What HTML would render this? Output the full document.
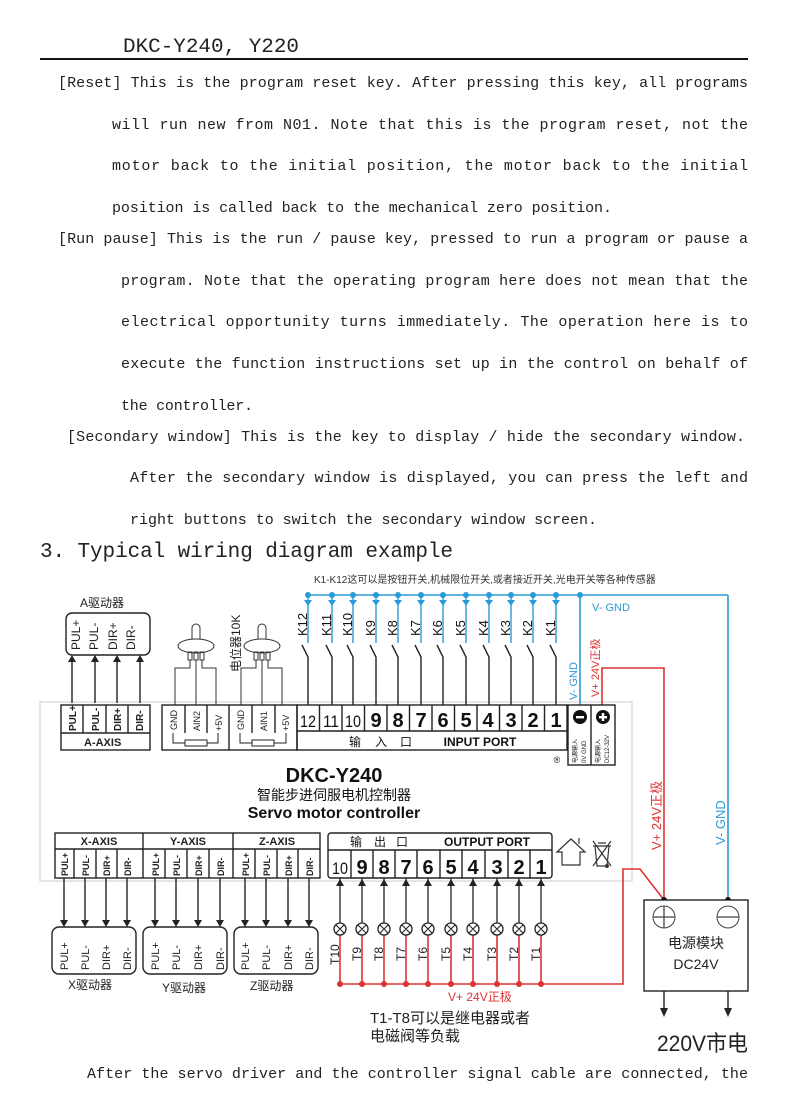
<!DOCTYPE html>
<html><head><meta charset="utf-8"><style>
html,body{margin:0;padding:0;background:#fff;}
svg{display:block;}
.p{font-family:"Liberation Mono","Noto Sans CJK SC",monospace;font-size:15px;fill:#222;}
.s{font-family:"Liberation Sans","Noto Sans CJK SC",sans-serif;}
</style></head><body>
<svg width="787" height="1102" viewBox="0 0 787 1102" xmlns="http://www.w3.org/2000/svg">
<text x="123" y="52" font-family="Liberation Mono,Noto Sans CJK SC,monospace" font-size="20" fill="#222" textLength="176" lengthAdjust="spacingAndGlyphs">DKC-Y240, Y220</text>
<line x1="40" y1="59" x2="748" y2="59" stroke="#111" stroke-width="2"/>
<g class="p">
<text x="58" y="87" textLength="690" lengthAdjust="spacing">[Reset] This is the program reset key. After pressing this key, all programs</text>
<text x="112" y="129" textLength="636" lengthAdjust="spacing">will run new from N01. Note that this is the program reset, not the</text>
<text x="112" y="170" textLength="636" lengthAdjust="spacing">motor back to the initial position, the motor back to the initial</text>
<text x="112" y="212" textLength="500" lengthAdjust="spacing">position is called back to the mechanical zero position.</text>
<text x="58" y="243" textLength="690" lengthAdjust="spacing">[Run pause] This is the run / pause key, pressed to run a program or pause a</text>
<text x="121" y="285" textLength="627" lengthAdjust="spacing">program. Note that the operating program here does not mean that the</text>
<text x="121" y="326" textLength="627" lengthAdjust="spacing">electrical opportunity turns immediately. The operation here is to</text>
<text x="121" y="368" textLength="627" lengthAdjust="spacing">execute the function instructions set up in the control on behalf of</text>
<text x="121" y="410" textLength="132" lengthAdjust="spacing">the controller.</text>
<text x="67" y="441" textLength="678" lengthAdjust="spacing">[Secondary window] This is the key to display / hide the secondary window.</text>
<text x="130" y="482" textLength="618" lengthAdjust="spacing">After the secondary window is displayed, you can press the left and</text>
<text x="130" y="524" textLength="467" lengthAdjust="spacing">right buttons to switch the secondary window screen.</text>
<text x="40" y="557" font-size="21" textLength="413" lengthAdjust="spacing">3. Typical wiring diagram example</text>
<text x="87" y="1078" textLength="661" lengthAdjust="spacing">After the servo driver and the controller signal cable are connected, the</text>
</g>

<!-- controller body -->
<rect x="40" y="702" width="592" height="179" fill="#fff" stroke="#ccc" stroke-width="1"/>

<!-- top label -->
<text x="314" y="583" class="s" font-size="10" fill="#333">K1-K12这可以是按钮开关,机械限位开关,或者接近开关,光电开关等各种传感器</text>

<!-- blue bus -->
<g stroke="#2a9bd6" stroke-width="1.6" fill="none">
<line x1="308" y1="595" x2="728" y2="595"/>
<line x1="728" y1="595" x2="728" y2="900"/>
<line x1="580" y1="595" x2="580" y2="705"/>
</g>
<circle cx="580" cy="595" r="3" fill="#2a9bd6"/>
<circle cx="728" cy="900" r="3" fill="#111"/>
<g id="ks" font-family="Liberation Sans,sans-serif" font-size="13" fill="#111">
</g>
<g stroke-width="1.4" fill="none">
<!-- K lines -->
<g stroke="#2a9bd6">
<line x1="308" y1="595" x2="308" y2="643"/><line x1="332" y1="595" x2="332" y2="643"/><line x1="353" y1="595" x2="353" y2="643"/><line x1="376" y1="595" x2="376" y2="643"/><line x1="398" y1="595" x2="398" y2="643"/><line x1="421" y1="595" x2="421" y2="643"/><line x1="443" y1="595" x2="443" y2="643"/><line x1="466" y1="595" x2="466" y2="643"/><line x1="489" y1="595" x2="489" y2="643"/><line x1="511" y1="595" x2="511" y2="643"/><line x1="533" y1="595" x2="533" y2="643"/><line x1="556" y1="595" x2="556" y2="643"/>
</g>
<g stroke="#222">
<path d="M302 645 L308 657 V705 M326 645 L332 657 V705 M347 645 L353 657 V705 M370 645 L376 657 V705 M392 645 L398 657 V705 M415 645 L421 657 V705 M437 645 L443 657 V705 M460 645 L466 657 V705 M483 645 L489 657 V705 M505 645 L511 657 V705 M527 645 L533 657 V705 M550 645 L556 657 V705"/>
</g>
</g>
<g fill="#2a9bd6">
<circle cx="308" cy="595" r="3"/><circle cx="332" cy="595" r="3"/><circle cx="353" cy="595" r="3"/><circle cx="376" cy="595" r="3"/><circle cx="398" cy="595" r="3"/><circle cx="421" cy="595" r="3"/><circle cx="443" cy="595" r="3"/><circle cx="466" cy="595" r="3"/><circle cx="489" cy="595" r="3"/><circle cx="511" cy="595" r="3"/><circle cx="533" cy="595" r="3"/><circle cx="556" cy="595" r="3"/>
<path d="M304 600h8l-4 6z M328 600h8l-4 6z M349 600h8l-4 6z M372 600h8l-4 6z M394 600h8l-4 6z M417 600h8l-4 6z M439 600h8l-4 6z M462 600h8l-4 6z M485 600h8l-4 6z M507 600h8l-4 6z M529 600h8l-4 6z M552 600h8l-4 6z"/>
</g>
<g font-family="Liberation Sans,sans-serif" font-size="13" fill="#111">
<text transform="translate(307,636) rotate(-90)">K12</text>
<text transform="translate(331,636) rotate(-90)">K11</text>
<text transform="translate(352,636) rotate(-90)">K10</text>
<text transform="translate(375,636) rotate(-90)">K9</text>
<text transform="translate(397,636) rotate(-90)">K8</text>
<text transform="translate(420,636) rotate(-90)">K7</text>
<text transform="translate(442,636) rotate(-90)">K6</text>
<text transform="translate(465,636) rotate(-90)">K5</text>
<text transform="translate(488,636) rotate(-90)">K4</text>
<text transform="translate(510,636) rotate(-90)">K3</text>
<text transform="translate(532,636) rotate(-90)">K2</text>
<text transform="translate(555,636) rotate(-90)">K1</text>
</g>
<text x="592" y="611" font-family="Liberation Sans,sans-serif" font-size="11" fill="#2a9bd6">V- GND</text>
<text transform="translate(577,700) rotate(-90)" font-family="Liberation Sans,sans-serif" font-size="11" fill="#2a9bd6">V- GND</text>
<text transform="translate(599,697) rotate(-90)" font-family="Liberation Sans,Noto Sans CJK SC,sans-serif" font-size="11" fill="#d33">V+ 24V正极</text>
<text transform="translate(661,850) rotate(-90)" font-family="Liberation Sans,Noto Sans CJK SC,sans-serif" font-size="13" fill="#d33">V+ 24V正极</text>
<text transform="translate(725,845) rotate(-90)" font-family="Liberation Sans,sans-serif" font-size="13" fill="#2a9bd6">V- GND</text>

<!-- red wires -->
<g stroke="#d33" stroke-width="1.6" fill="none">
<path d="M602 705 V668 H664 V900"/>
<path d="M340 984 H623 V869 H640 L664 900"/>
<path d="M340 922 V984 M362 922 V984 M384 922 V984 M406 922 V984 M428 922 V984 M451 922 V984 M473 922 V984 M497 922 V984 M519 922 V984 M541 922 V984"/>
</g>
<g fill="#d33"><circle cx="340" cy="984" r="3"/><circle cx="362" cy="984" r="3"/><circle cx="384" cy="984" r="3"/><circle cx="406" cy="984" r="3"/><circle cx="428" cy="984" r="3"/><circle cx="451" cy="984" r="3"/><circle cx="473" cy="984" r="3"/><circle cx="497" cy="984" r="3"/><circle cx="519" cy="984" r="3"/><circle cx="541" cy="984" r="3"/></g>
<circle cx="664" cy="900" r="3" fill="#111"/>

<!-- A driver -->
<text x="80" y="607" class="s" font-size="12" fill="#222">A驱动器</text>
<rect x="66" y="613" width="84" height="42" rx="6" fill="#fff" stroke="#222" stroke-width="1.4"/>
<g font-family="Liberation Sans,sans-serif" font-size="12" fill="#222">
<text transform="translate(80,650) rotate(-90)">PUL+</text><text transform="translate(98,650) rotate(-90)">PUL-</text><text transform="translate(117,650) rotate(-90)">DIR+</text><text transform="translate(135,650) rotate(-90)">DIR-</text>
</g>
<g stroke="#222" stroke-width="1.4"><line x1="72" y1="703" x2="72" y2="660"/><line x1="95" y1="703" x2="95" y2="660"/><line x1="117" y1="703" x2="117" y2="660"/><line x1="140" y1="703" x2="140" y2="660"/></g>
<g fill="#222"><path d="M68 662h8l-4-7z M91 662h8l-4-7z M113 662h8l-4-7z M136 662h8l-4-7z"/></g>

<!-- A-AXIS block -->
<g fill="none" stroke="#222" stroke-width="1.4">
<rect x="61" y="705" width="89" height="45"/>
<line x1="61" y1="733" x2="150" y2="733"/>
<line x1="83" y1="705" x2="83" y2="733"/><line x1="106" y1="705" x2="106" y2="733"/><line x1="128" y1="705" x2="128" y2="733"/>
</g>
<g font-family="Liberation Sans,sans-serif" font-size="10" font-weight="bold" fill="#222">
<text transform="translate(76,731) rotate(-90)">PUL+</text><text transform="translate(99,731) rotate(-90)">PUL-</text><text transform="translate(121,731) rotate(-90)">DIR+</text><text transform="translate(143,731) rotate(-90)">DIR-</text>
<text x="84" y="746" font-size="11">A-AXIS</text>
</g>

<!-- pots -->
<g fill="none" stroke="#333" stroke-width="1">
<rect x="192" y="624" width="8" height="18" rx="4" fill="#fff"/>
<ellipse cx="196" cy="646" rx="18" ry="7" fill="#fff"/>
<rect x="188" y="652" width="4" height="8"/><rect x="194" y="652" width="4" height="8"/><rect x="200" y="652" width="4" height="8"/>
<path d="M190 660 V668 H175 V705 M196 660 V705 M202 660 V668 H216 V705"/>
<rect x="258" y="624" width="8" height="18" rx="4" fill="#fff"/>
<ellipse cx="262" cy="646" rx="18" ry="7" fill="#fff"/>
<rect x="254" y="652" width="4" height="8"/><rect x="260" y="652" width="4" height="8"/><rect x="266" y="652" width="4" height="8"/>
<path d="M256 660 V668 H241 V705 M262 660 V705 M268 660 V668 H282 V705"/>
</g>
<text transform="translate(240,672) rotate(-90)" class="s" font-size="12" fill="#222">电位器10K</text>
<g fill="none" stroke="#222" stroke-width="1.4">
<rect x="162" y="705" width="135" height="45"/>
<line x1="229" y1="705" x2="229" y2="750"/>
<line x1="185" y1="705" x2="185" y2="733"/><line x1="207" y1="705" x2="207" y2="733"/>
<line x1="252" y1="705" x2="252" y2="733"/><line x1="275" y1="705" x2="275" y2="733"/>
<path d="M173 733 V743 H185 M207 743 H218 V733" stroke-width="1"/><rect x="185" y="740" width="22" height="6" stroke-width="1"/>
<path d="M240 733 V743 H252 M274 743 H286 V733" stroke-width="1"/><rect x="252" y="740" width="22" height="6" stroke-width="1"/>
</g>
<g font-family="Liberation Sans,sans-serif" font-size="9" fill="#222">
<text transform="translate(177,730) rotate(-90)">GND</text><text transform="translate(200,731) rotate(-90)">AIN2</text><text transform="translate(222,731) rotate(-90)">+5V</text>
<text transform="translate(244,730) rotate(-90)">GND</text><text transform="translate(267,731) rotate(-90)">AIN1</text><text transform="translate(289,731) rotate(-90)">+5V</text>
</g>

<!-- input port -->
<g fill="none" stroke="#222" stroke-width="1.4">
<rect x="297" y="705" width="270" height="45"/>
<line x1="297" y1="731" x2="567" y2="731"/>
<path d="M319.5 705V731 M342 705V731 M364.5 705V731 M387 705V731 M409.5 705V731 M432 705V731 M454.5 705V731 M477 705V731 M499.5 705V731 M522 705V731 M544.5 705V731"/>
<rect x="568" y="705" width="47" height="60"/><line x1="591" y1="705" x2="591" y2="765"/>
</g>
<g font-family="Liberation Sans,sans-serif" fill="#111" text-anchor="middle">
<g font-size="17" font-weight="bold">
<text x="308" y="727" font-weight="normal" textLength="16" lengthAdjust="spacingAndGlyphs">12</text><text x="331" y="727" font-weight="normal" textLength="16" lengthAdjust="spacingAndGlyphs">11</text><text x="353" y="727" font-weight="normal" textLength="16" lengthAdjust="spacingAndGlyphs">10</text>
<text x="376" y="727" font-size="20">9</text><text x="398" y="727" font-size="20">8</text><text x="421" y="727" font-size="20">7</text><text x="443" y="727" font-size="20">6</text><text x="466" y="727" font-size="20">5</text><text x="488" y="727" font-size="20">4</text><text x="511" y="727" font-size="20">3</text><text x="533" y="727" font-size="20">2</text><text x="556" y="727" font-size="20">1</text>
</g>
<text x="355" y="746" font-size="12" font-family="Noto Sans CJK SC,sans-serif">输</text>
<text x="381" y="746" font-size="12" font-family="Noto Sans CJK SC,sans-serif">入</text>
<text x="406" y="746" font-size="12" font-family="Noto Sans CJK SC,sans-serif">口</text>
<text x="480" y="746" font-size="12" font-weight="bold">INPUT PORT</text>
<text x="557" y="763" font-size="9">®</text>
</g>
<circle cx="580" cy="717" r="7" fill="#111"/><rect x="576" y="716" width="8" height="2.4" fill="#fff"/>
<circle cx="603" cy="717" r="7" fill="#111"/><rect x="599" y="716" width="8" height="2.4" fill="#fff"/><rect x="601.8" y="713" width="2.4" height="8" fill="#fff"/>
<g class="s" font-size="6" fill="#222">
<text transform="translate(577,763) rotate(-90)">电源输入</text><text transform="translate(586,763) rotate(-90)">0V GND</text>
<text transform="translate(600,763) rotate(-90)">电源输入</text><text transform="translate(609,763) rotate(-90)">DC12-32V</text>
</g>

<!-- titles -->
<text x="334" y="782" text-anchor="middle" font-family="Liberation Sans,sans-serif" font-size="20" font-weight="bold" fill="#111">DKC-Y240</text>
<text x="334" y="800" text-anchor="middle" class="s" font-size="14" fill="#111">智能步进伺服电机控制器</text>
<text x="334" y="818" text-anchor="middle" font-family="Liberation Sans,sans-serif" font-size="16" font-weight="bold" fill="#111">Servo motor controller</text>

<!-- XYZ axis block -->
<g fill="none" stroke="#222" stroke-width="1.4">
<rect x="55" y="833" width="265" height="45"/>
<line x1="55" y1="849" x2="320" y2="849"/>
<line x1="143" y1="833" x2="143" y2="878"/><line x1="233" y1="833" x2="233" y2="878"/>
<path d="M74 849V878 M96 849V878 M117 849V878 M165 849V878 M187 849V878 M209 849V878 M255 849V878 M277 849V878 M298 849V878"/>
</g>
<g font-family="Liberation Sans,sans-serif" font-size="11" font-weight="bold" fill="#222" text-anchor="middle">
<text x="99" y="845">X-AXIS</text><text x="188" y="845">Y-AXIS</text><text x="277" y="845">Z-AXIS</text>
</g>
<g font-family="Liberation Sans,sans-serif" font-size="9" font-weight="bold" fill="#222">
<text transform="translate(68,876) rotate(-90)">PUL+</text><text transform="translate(89,876) rotate(-90)">PUL-</text><text transform="translate(110,876) rotate(-90)">DIR+</text><text transform="translate(131,876) rotate(-90)">DIR-</text>
<text transform="translate(159,876) rotate(-90)">PUL+</text><text transform="translate(180,876) rotate(-90)">PUL-</text><text transform="translate(202,876) rotate(-90)">DIR+</text><text transform="translate(224,876) rotate(-90)">DIR-</text>
<text transform="translate(249,876) rotate(-90)">PUL+</text><text transform="translate(270,876) rotate(-90)">PUL-</text><text transform="translate(292,876) rotate(-90)">DIR+</text><text transform="translate(313,876) rotate(-90)">DIR-</text>
</g>
<g stroke="#222" stroke-width="1.4">
<path d="M64 878V922 M85 878V922 M106 878V922 M127 878V922 M155 878V922 M176 878V922 M198 878V922 M220 878V922 M245 878V922 M266 878V922 M288 878V922 M309 878V922"/>
</g>
<g fill="#222"><path d="M60 920h8l-4 7z M81 920h8l-4 7z M102 920h8l-4 7z M123 920h8l-4 7z M151 920h8l-4 7z M172 920h8l-4 7z M194 920h8l-4 7z M216 920h8l-4 7z M241 920h8l-4 7z M262 920h8l-4 7z M284 920h8l-4 7z M305 920h8l-4 7z"/></g>
<g fill="#fff" stroke="#222" stroke-width="1.4">
<rect x="52" y="927" width="84" height="47" rx="7"/><rect x="143" y="927" width="84" height="47" rx="7"/><rect x="234" y="927" width="84" height="47" rx="7"/>
</g>
<g font-family="Liberation Sans,sans-serif" font-size="11" fill="#222">
<text transform="translate(68,970) rotate(-90)">PUL+</text><text transform="translate(89,970) rotate(-90)">PUL-</text><text transform="translate(110,970) rotate(-90)">DIR+</text><text transform="translate(131,970) rotate(-90)">DIR-</text>
<text transform="translate(159,970) rotate(-90)">PUL+</text><text transform="translate(180,970) rotate(-90)">PUL-</text><text transform="translate(202,970) rotate(-90)">DIR+</text><text transform="translate(224,970) rotate(-90)">DIR-</text>
<text transform="translate(249,970) rotate(-90)">PUL+</text><text transform="translate(270,970) rotate(-90)">PUL-</text><text transform="translate(292,970) rotate(-90)">DIR+</text><text transform="translate(313,970) rotate(-90)">DIR-</text>
</g>
<g class="s" font-size="12" fill="#222"><text x="68" y="989">X驱动器</text><text x="162" y="992">Y驱动器</text><text x="250" y="990">Z驱动器</text></g>

<!-- output port -->
<g fill="none" stroke="#222" stroke-width="1.4">
<rect x="328" y="833" width="224" height="45" rx="3"/>
<line x1="328" y1="850" x2="552" y2="850"/>
<path d="M351 850V878 M373 850V878 M395 850V878 M417 850V878 M440 850V878 M462 850V878 M485 850V878 M508 850V878 M530 850V878"/>
</g>
<g font-family="Liberation Sans,sans-serif" fill="#111" text-anchor="middle">
<text x="356" y="846" font-size="12" font-family="Noto Sans CJK SC,sans-serif">输</text><text x="380" y="846" font-size="12" font-family="Noto Sans CJK SC,sans-serif">出</text><text x="402" y="846" font-size="12" font-family="Noto Sans CJK SC,sans-serif">口</text>
<text x="487" y="846" font-size="12" font-weight="bold">OUTPUT PORT</text>
<text x="340" y="874" font-size="17" textLength="16" lengthAdjust="spacingAndGlyphs">10</text>
<g font-size="20" font-weight="bold"><text x="362" y="874">9</text><text x="384" y="874">8</text><text x="406" y="874">7</text><text x="428" y="874">6</text><text x="451" y="874">5</text><text x="473" y="874">4</text><text x="497" y="874">3</text><text x="519" y="874">2</text><text x="541" y="874">1</text></g>
</g>
<!-- icons -->
<g fill="none" stroke="#333" stroke-width="1.2">
<path d="M557 852 L571 839 L585 852 H580 V865 H562 V852 Z"/><path d="M579 844 V838"/>
<path d="M593 846 H611 M595 846 L597 866 H607 L609 846 M593 841 L611 866 M611 841 L593 866 M598 843 H606"/>
</g>
<circle cx="607" cy="866" r="2" fill="#333"/>

<!-- lamps -->
<g stroke="#222" stroke-width="1.3">
<path d="M340 878V922 M362 878V922 M384 878V922 M406 878V922 M428 878V922 M451 878V922 M473 878V922 M497 878V922 M519 878V922 M541 878V922"/>
</g>
<g fill="#222"><path d="M336 886h8l-4-7z M358 886h8l-4-7z M380 886h8l-4-7z M402 886h8l-4-7z M424 886h8l-4-7z M447 886h8l-4-7z M469 886h8l-4-7z M493 886h8l-4-7z M515 886h8l-4-7z M537 886h8l-4-7z"/></g>
<g fill="#fff" stroke="#222" stroke-width="1.3">
<circle cx="340" cy="929" r="6"/><circle cx="362" cy="929" r="6"/><circle cx="384" cy="929" r="6"/><circle cx="406" cy="929" r="6"/><circle cx="428" cy="929" r="6"/><circle cx="451" cy="929" r="6"/><circle cx="473" cy="929" r="6"/><circle cx="497" cy="929" r="6"/><circle cx="519" cy="929" r="6"/><circle cx="541" cy="929" r="6"/>
</g>
<g stroke="#222" stroke-width="1.1">
<path d="M336 925l8 8M344 925l-8 8 M358 925l8 8M366 925l-8 8 M380 925l8 8M388 925l-8 8 M402 925l8 8M410 925l-8 8 M424 925l8 8M432 925l-8 8 M447 925l8 8M455 925l-8 8 M469 925l8 8M477 925l-8 8 M493 925l8 8M501 925l-8 8 M515 925l8 8M523 925l-8 8 M537 925l8 8M545 925l-8 8"/>
</g>
<g font-family="Liberation Sans,sans-serif" font-size="12" fill="#222">
<text transform="translate(339,965) rotate(-90)">T10</text><text transform="translate(361,961) rotate(-90)">T9</text><text transform="translate(383,961) rotate(-90)">T8</text><text transform="translate(405,961) rotate(-90)">T7</text><text transform="translate(427,961) rotate(-90)">T6</text><text transform="translate(450,961) rotate(-90)">T5</text><text transform="translate(472,961) rotate(-90)">T4</text><text transform="translate(496,961) rotate(-90)">T3</text><text transform="translate(518,961) rotate(-90)">T2</text><text transform="translate(540,961) rotate(-90)">T1</text>
</g>
<text x="448" y="1001" font-family="Liberation Sans,Noto Sans CJK SC,sans-serif" font-size="12" fill="#d33">V+ 24V正极</text>
<text x="370" y="1023" font-family="Liberation Sans,Noto Sans CJK SC,sans-serif" font-size="15" fill="#222">T1-T8可以是继电器或者</text>
<text x="370" y="1041" class="s" font-size="15" fill="#222">电磁阀等负载</text>

<!-- power module -->
<rect x="644" y="900" width="104" height="91" fill="#fff" stroke="#222" stroke-width="1.4"/>
<circle cx="664" cy="917" r="11" fill="none" stroke="#444"/><path d="M653 917h22M664 906v22" stroke="#444" stroke-width="1.3"/>
<circle cx="728" cy="917" r="11" fill="none" stroke="#444"/><path d="M717 917h22" stroke="#444" stroke-width="1.3"/>
<text x="696" y="948" text-anchor="middle" class="s" font-size="14" fill="#222">电源模块</text>
<text x="696" y="969" text-anchor="middle" font-family="Liberation Sans,sans-serif" font-size="14" fill="#222">DC24V</text>
<g stroke="#222" stroke-width="1.4"><line x1="664" y1="991" x2="664" y2="1010"/><line x1="728" y1="991" x2="728" y2="1010"/></g>
<g fill="#222"><path d="M660 1008h8l-4 9z M724 1008h8l-4 9z"/></g>
<text x="657" y="1051" font-family="Liberation Sans,Noto Sans CJK SC,sans-serif" font-size="22" fill="#222" textLength="91" lengthAdjust="spacingAndGlyphs">220V市电</text>
</svg>
</body></html>
